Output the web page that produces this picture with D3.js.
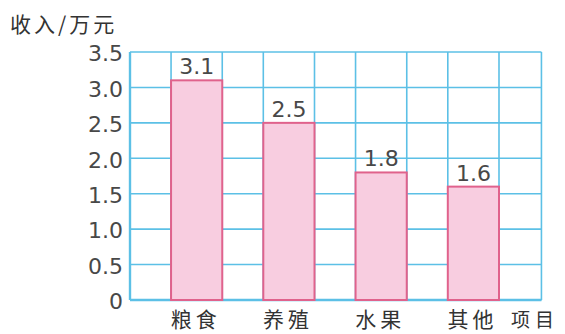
<!DOCTYPE html>
<meta charset="utf-8">
<style>
  body { margin: 0; background: #fff; }
  svg { display: block; }
  .cjk { font-family: "Noto Sans CJK SC", sans-serif; fill: #333; }
  .num { font-family: "DejaVu Sans", sans-serif; fill: #484848; }
</style>
<svg width="565" height="334"></svg>
<script src="https://cdn.jsdelivr.net/npm/d3@7"></script>
<script>

var categories = ["粮食", "养殖", "水果", "其他"];
var values = [3.1, 2.5, 1.8, 1.6];
var yTicks = [0, 0.5, 1, 1.5, 2, 2.5, 3, 3.5];
var yTickLabels = ["0", "0.5", "1.0", "1.5", "2.0", "2.5", "3.0", "3.5"];
var yTitle = "收入/万元";
var xTitle = "项目";

var svg = d3.select("svg");
var gridColor = "#5cc0e6";

var y = d3.scaleLinear().domain([0, 3.5]).range([300, 52]);
var x = d3.scaleBand().domain(categories).range([130, 499])
    .paddingInner(0.445).paddingOuter(0.2225).align(1);
var left = x.range()[0], right = x.range()[1] + x.step() * 0.46;

// horizontal grid
svg.append("g").selectAll("line")
  .data(yTicks)
  .enter().append("line")
    .attr("x1", left).attr("x2", right)
    .attr("y1", function(d) { return y(d); }).attr("y2", function(d) { return y(d); })
    .attr("stroke", gridColor).attr("stroke-width", 1.6);

// vertical grid: band edges
var vx = [left];
categories.forEach(function(c) { vx.push(x(c)); vx.push(x(c) + x.bandwidth()); });
vx.push(right);
svg.append("g").selectAll("line")
  .data(vx)
  .enter().append("line")
    .attr("x1", function(d) { return d; }).attr("x2", function(d) { return d; })
    .attr("y1", y(3.5)).attr("y2", y(0))
    .attr("stroke", gridColor).attr("stroke-width", 1.6);

// axis lines
svg.append("line").attr("x1", left).attr("x2", left).attr("y1", y(3.5)).attr("y2", y(0))
  .attr("stroke", gridColor).attr("stroke-width", 2.4);
svg.append("line").attr("x1", left).attr("x2", right).attr("y1", y(0)).attr("y2", y(0))
  .attr("stroke", gridColor).attr("stroke-width", 2.4);

// y tick labels
var ya = svg.append("g")
  .attr("transform", "translate(" + left + ",0)")
  .call(d3.axisLeft(y).tickValues(yTicks).tickSize(0).tickPadding(7)
    .tickFormat(function(d, i) { return yTickLabels[i]; }));
ya.select(".domain").remove();
ya.selectAll("text").attr("class", "num").attr("font-size", 22).attr("dy", "0.4em");

// bars
svg.append("g").selectAll("rect")
  .data(values)
  .enter().append("rect")
    .attr("x", function(d, i) { return x(categories[i]); })
    .attr("y", function(d) { return y(d); })
    .attr("width", x.bandwidth())
    .attr("height", function(d) { return y(0) - y(d); })
    .attr("fill", "#f8cde0").attr("stroke", "#e0628c").attr("stroke-width", 2);

// value labels
svg.append("g").selectAll("text")
  .data(values)
  .enter().append("text")
    .attr("class", "num")
    .attr("x", function(d, i) { return x(categories[i]) + x.bandwidth() / 2; })
    .attr("y", function(d) { return y(d) - 6; })
    .attr("text-anchor", "middle").attr("font-size", 22)
    .text(function(d) { return d.toFixed(1); });

// category labels
svg.append("g").selectAll("text")
  .data(categories)
  .enter().append("text")
    .attr("class", "cjk")
    .attr("x", function(d) { return x(d) + x.bandwidth() / 2 - 1; })
    .attr("y", 327)
    .attr("text-anchor", "middle").attr("font-size", 21)
    .attr("letter-spacing", 4)
    .text(function(d) { return d; });

svg.append("text").attr("class", "cjk")
  .attr("x", 10).attr("y", 32).attr("font-size", 21).attr("letter-spacing", 3)
  .text(yTitle);

svg.append("text").attr("class", "cjk")
  .attr("x", 511).attr("y", 327).attr("font-size", 19).attr("letter-spacing", 5)
  .text(xTitle);

</script>
